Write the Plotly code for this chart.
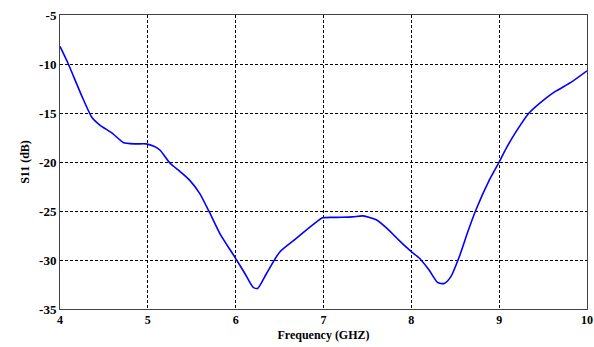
import plotly.graph_objects as go

freq = [4.0, 4.09, 4.25, 4.36, 4.45, 4.6, 4.72, 4.85, 4.98, 5.07, 5.14, 5.25, 5.37, 5.48, 5.59, 5.70, 5.82, 5.99,
        6.10, 6.20, 6.25, 6.35, 6.5, 6.69, 6.88, 6.99, 7.15, 7.33, 7.45, 7.6, 7.75, 7.86, 8.0, 8.09, 8.2, 8.30,
        8.375, 8.45, 8.545, 8.64, 8.735, 8.89, 9.0, 9.08, 9.2, 9.34, 9.53, 9.64, 9.83, 10.0]
s11 = [-8.2, -9.9, -13.3, -15.4, -16.2, -17.1, -18.0, -18.15, -18.15, -18.4, -18.8, -20.1, -21.0, -21.9, -23.2, -25.1, -27.3, -29.7,
       -31.3, -32.8, -32.9, -31.4, -29.2, -27.8, -26.4, -25.7, -25.65, -25.6, -25.5, -25.9, -27.0, -28.0, -29.15, -29.8, -31.0, -32.3,
       -32.4, -31.7, -29.7, -27.2, -24.9, -21.8, -20.0, -18.6, -16.8, -15.0, -13.5, -12.8, -11.8, -10.7]

x_ticks = [4, 5, 6, 7, 8, 9, 10]
x_labels = ["4", "5", "6", "7", "8", "9", "10"]
y_ticks = [-35, -30, -25, -20, -15, -10, -5]
y_labels = ["-35", "-30", "-25", "-20", "-15", "-10", "-5"]

serif = "Liberation Serif, Times New Roman, serif"

fig = go.Figure()
fig.add_trace(go.Scatter(x=freq, y=s11, mode="lines",
                         line=dict(color="#0000ff", width=1.6, shape="spline", smoothing=0.6)))

axis_common = dict(showline=True, mirror=True, linecolor="#444444", linewidth=1,
                   showgrid=True, gridcolor="black", griddash="3px,2px", gridwidth=1,
                   zeroline=False, ticks="", automargin=False)

fig.update_layout(
    width=594, height=347,
    margin=dict(l=60, r=7, t=15, b=38),
    paper_bgcolor="white", plot_bgcolor="white",
    showlegend=False,
    font=dict(family=serif, size=12, color="black"),
    xaxis=dict(range=[4, 10], tickvals=x_ticks, ticktext=[f"<b>{t}</b>" for t in x_labels],
               tickfont=dict(family=serif, size=12, color="black"),
               title=dict(text="<b>Frequency (GHZ)</b>", font=dict(family=serif, size=12), standoff=4),
               **axis_common),
    yaxis=dict(range=[-35, -5], tickvals=y_ticks, ticktext=[f"<b>{t}</b>" for t in y_labels],
               tickfont=dict(family=serif, size=13, color="black"),
               title=dict(text="<b>S11 (dB)</b>", font=dict(family=serif, size=12), standoff=6),
               **axis_common),
)

fig.write_html("out.html", config={"displayModeBar": False},
               post_script="document.body.style.margin='0';document.body.style.overflow='hidden';")
